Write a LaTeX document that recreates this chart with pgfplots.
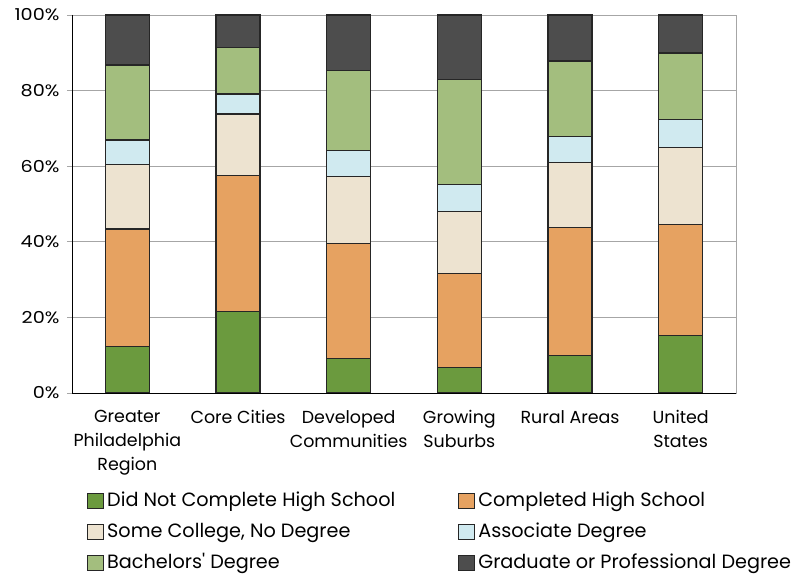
\documentclass[border=0pt]{standalone}
\usepackage{pgfplots}
\pgfplotsset{compat=1.18}
\usepackage{fontspec}
\setmainfont{Poppins}[Ligatures=TeXOff]
\newfontfamily\widefont[FakeStretch=1.17]{Poppins}
\definecolor{cA}{RGB}{107,154,62}
\definecolor{cB}{RGB}{230,162,97}
\definecolor{cC}{RGB}{237,227,208}
\definecolor{cD}{RGB}{208,234,240}
\definecolor{cE}{RGB}{163,190,126}
\definecolor{cF}{RGB}{77,77,77}
\definecolor{gridc}{RGB}{166,166,166}
\begin{document}
\begin{tikzpicture}
\begin{axis}[
  name=ax,
  scale only axis,
  width=664bp, height=378bp,
  ybar stacked,
  bar width=44bp,
  xmin=-0.5, xmax=5.5,
  ymin=0, ymax=100,
  xtick={0,1,2,3,4,5},
  xticklabels={Greater\\Philadelphia\\Region, Core Cities, Developed\\Communities, Growing\\Suburbs, Rural Areas, United\\States},
  xticklabel style={align=center, font=\fontsize{17.5}{24}\selectfont, yshift=-9bp},
  x tick style={draw=none},
  extra x ticks={-0.5,0.5,1.5,2.5,3.5,4.5,5.5},
  extra x tick labels={},
  extra x tick style={major tick length=6bp, tick style={draw=gridc, line width=0.8pt}},
  ytick={0,20,40,60,80,100},
  yticklabel={\pgfmathprintnumber{\tick}\%},
  /pgf/number format/assume math mode=true,
  yticklabel style={font=\widefont\fontsize{16.5}{19}\selectfont, xshift=-4bp},
  y tick style={draw=gridc, line width=0.8pt},
  major tick length=5bp,
  tick align=outside,
  xtick pos=bottom, ytick pos=left,
  ymajorgrids,
  grid style={draw=gridc, line width=0.8pt},
  axis line style={draw=gridc, line width=1pt},
  every axis plot/.append style={draw=black!85, line width=1.4pt},
  area legend,
  legend columns=2,
  legend cell align=left,
  legend image code/.code={\draw[#1, line width=1pt] (0bp,-7.5bp) rectangle (16bp,7.5bp);},
  legend style={
    at={(axis description cs:0,0)}, anchor=north west,
    xshift=12bp, yshift=-97bp,
    draw=none, fill=none,
    font=\fontsize{19.3}{22}\selectfont,
    nodes={inner sep=0pt, text height=14bp, text depth=4bp},
    row sep=13bp,
    /tikz/every odd column/.append style={column sep=3bp},
    /tikz/every even column/.append style={column sep=63bp},
  },
]
\addplot[fill=cA] coordinates {(0,12.3) (1,21.6) (2,9.2) (3,6.7) (4,9.9) (5,15.2)};
\addplot[fill=cB] coordinates {(0,31.1) (1,35.9) (2,30.4) (3,24.9) (4,33.9) (5,29.4)};
\addplot[fill=cC] coordinates {(0,17.0) (1,16.3) (2,17.7) (3,16.4) (4,17.1) (5,20.4)};
\addplot[fill=cD] coordinates {(0,6.5) (1,5.3) (2,6.8) (3,7.1) (4,7.0) (5,7.4)};
\addplot[fill=cE] coordinates {(0,19.9) (1,12.3) (2,21.2) (3,27.8) (4,19.9) (5,17.5)};
\addplot[fill=cF] coordinates {(0,13.2) (1,8.6) (2,14.7) (3,17.1) (4,12.2) (5,10.1)};
\legend{Did Not Complete High School, Completed High School, {Some College, No Degree}, Associate Degree, Bachelors' Degree, Graduate or Professional Degree}
\end{axis}
\draw[black, line width=1pt] (ax.north west) -- (ax.south west) -- (ax.south east);
\path ([shift={(-72bp,-182bp)}]ax.south west) rectangle ++(799bp,575bp);
\end{tikzpicture}
\end{document}
